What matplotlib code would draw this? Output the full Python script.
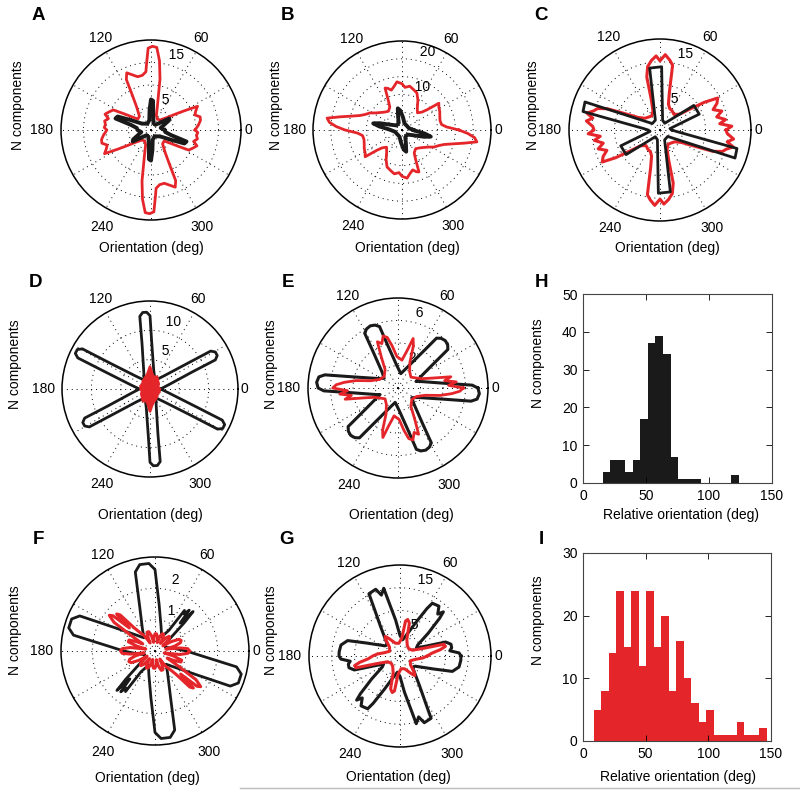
import numpy as np
import matplotlib
matplotlib.use("Agg")
import matplotlib.pyplot as plt
from matplotlib.lines import Line2D

plt.rcParams['font.family'] = ['Liberation Sans', 'DejaVu Sans']
plt.rcParams['font.size'] = 10

W, H = 800, 792
RED = '#e4262b'
BLACK = '#1a1a1a'

# ---- polar outlines: angle (deg, 0-180) and N components; 180-360 repeats ----
a_red_th = [0, 6, 11, 15, 19, 23, 27, 30, 33, 38, 48, 60, 70, 75, 78, 80, 83, 86, 89, 92,
            94, 95, 99, 104, 109, 113, 116, 118, 122, 130, 140, 145, 149, 152, 157, 161, 165, 169, 173, 177]
a_red_r = [9.8, 10.6, 11.2, 11.3, 10.3, 10.8, 11.6, 8.5, 6.5, 4.5, 3.0, 2.8, 3.5, 5.5, 8.0, 11.5, 15.5, 18.4, 18.6, 18.2,
           14.5, 13.0, 12.3, 12.2, 13.0, 13.8, 12.5, 9.0, 6.0, 4.0, 3.8, 5.0, 7.0, 9.5, 10.2, 10.8, 9.8, 10.5, 10.2, 10.4]
a_blk_th = [0, 12, 22, 28, 32, 37, 50, 70, 82, 86, 90, 94, 100, 120, 145, 154, 158, 162, 166, 172]
a_blk_r = [3.0, 2.2, 3.2, 4.5, 4.8, 3.0, 1.5, 1.6, 3.5, 6.5, 6.8, 4.5, 2.2, 1.6, 2.5, 5.0, 8.0, 8.3, 4.5, 3.2]

b_red_th = [0, 4, 8, 14, 20, 26, 32, 36, 39, 42, 48, 55, 62, 68, 74, 80, 86, 90, 96, 101,
            105, 109, 112, 115, 118, 126, 134, 141, 147, 152, 157, 161, 165, 168, 171, 174, 177]
b_red_r = [16.0, 12.5, 11.2, 11.0, 11.3, 11.8, 12.2, 12.8, 9.0, 7.5, 6.5, 7.5, 9.5, 11.2, 11.8, 12.5, 12.0, 13.0, 13.6, 12.3,
           11.6, 12.4, 12.7, 9.0, 7.3, 6.5, 7.0, 7.8, 8.8, 10.2, 11.2, 12.5, 15.0, 17.8, 21.3, 20.5, 18.5]
b_blk_th = [0, 15, 40, 70, 85, 95, 101, 106, 115, 140, 155, 163, 167, 171, 176]
b_blk_r = [3.2, 2.0, 1.8, 2.0, 3.5, 5.5, 6.2, 4.0, 2.2, 2.0, 3.5, 6.5, 8.3, 6.5, 4.0]

c_red_th = [0, 3, 6, 9, 13, 17, 21, 25, 29, 32, 35, 39, 48, 58, 66, 72, 76, 79, 82, 86,
            90, 93, 97, 101, 104, 106, 110, 120, 132, 142, 150, 155, 158, 161, 164, 167, 170, 173, 177]
c_red_r = [14.5, 15.8, 13.2, 14.6, 12.8, 14.2, 12.5, 13.8, 14.5, 11.5, 8.0, 5.5, 4.6, 5.0, 5.2, 6.0, 8.5, 14.5, 15.5, 16.6,
           15.2, 16.3, 15.4, 14.2, 12.0, 7.0, 4.5, 3.6, 3.8, 4.2, 5.5, 8.5, 12.5, 14.5, 15.2, 16.5, 15.0, 16.3, 14.8]
c_blk_th = [0, 8, 22, 36, 55, 75, 88.5, 99.5, 115, 140, 159.5, 166.5, 175]
c_blk_r = [2.6, 2.2, 9.3, 9.2, 1.8, 2.2, 13.9, 13.8, 2.4, 2.2, 17.6, 17.4, 3.6]

d_blk_th = [0, 13, 22, 24, 26.5, 29.5, 32, 34, 43, 60, 79, 88, 90, 92.5, 95.5, 98, 100, 109, 123, 138,
            147, 149.3, 151.5, 154.5, 156.7, 159, 168]
d_blk_r = [1.8, 3.3, 7.8, 12.2, 12.8, 12.8, 12.2, 8.2, 3.3, 1.7, 3.3, 8.1, 12.5, 13.1, 13.1, 12.5, 7.8, 3.3, 1.8, 3.3,
           8.0, 13.4, 14.1, 14.1, 13.4, 8.3, 3.3]
d_red_th = [0, 15, 30, 45, 60, 72, 82, 90, 97, 105, 118, 132, 148, 163, 172]
d_red_r = [1.6, 1.4, 1.7, 1.9, 2.4, 2.1, 2.6, 3.8, 2.8, 2.3, 2.0, 1.8, 1.5, 1.7, 1.5]

e_blk_th = [0, 2.2, 6.2, 17, 20, 24, 34.8, 37.7, 41, 45, 49, 52.3, 55.2, 66, 79, 93, 103.8, 106.7, 110, 114,
            118, 121.3, 124.2, 135, 145, 155, 165.8, 169.8, 172, 176]
e_blk_r = [7.1, 6.6, 4.0, 2.0, 1.7, 2.0, 4.0, 5.6, 5.85, 5.95, 5.85, 5.6, 4.0, 2.0, 1.3, 2.0, 4.0, 5.7, 5.95, 6.05,
           5.95, 5.7, 4.0, 2.0, 1.5, 2.0, 4.0, 6.6, 7.1, 7.25]
e_red_th = [0, 3, 6, 9, 12, 16, 22, 30, 40, 55, 65, 70, 73, 76, 82, 92, 98, 102, 106, 110,
            114, 118, 125, 140, 155, 165, 170, 174, 177]
e_red_r = [5.8, 4.5, 5.2, 4.2, 4.8, 3.2, 2.2, 1.8, 1.5, 1.8, 2.5, 4.0, 4.6, 3.5, 2.5, 2.8, 3.8, 4.6, 4.8, 4.2,
           4.5, 3.2, 2.0, 1.6, 1.8, 2.5, 3.8, 4.8, 5.5]

f_blk_th = [0, 8, 20, 35, 44, 46, 48, 50, 52, 54, 56, 65, 76, 85, 90, 94, 100, 104, 109, 120,
            130, 140, 150, 155, 159, 165, 169, 174]
f_blk_r = [1.0, 0.6, 0.35, 0.4, 1.3, 1.75, 1.2, 1.7, 1.5, 1.6, 0.8, 0.5, 0.8, 1.5, 2.6, 2.8, 2.8, 2.6, 1.5, 0.8,
           0.55, 0.8, 1.5, 2.65, 2.85, 2.85, 2.65, 1.5]
f_red_th = [0, 4, 7, 10, 14, 18, 22, 26, 30, 33, 38, 42, 46, 50, 54, 59, 63, 67, 71, 75,
            80, 85, 90, 95, 99, 103, 108, 113, 118, 121, 125, 129, 132, 134, 136, 138, 140, 142, 145, 147,
            150, 153, 157, 161, 165, 168, 172, 176]
f_red_r = [1.1, 1.05, 0.8, 0.35, 0.65, 0.85, 0.9, 0.85, 0.6, 0.3, 0.5, 0.63, 0.65, 0.55, 0.3, 0.5, 0.6, 0.6, 0.5, 0.28,
           0.45, 0.55, 0.55, 0.42, 0.28, 0.5, 0.65, 0.65, 0.45, 0.3, 0.6, 0.75, 1.0, 1.6, 1.7, 1.1, 1.75, 1.85, 1.6, 0.9,
           0.45, 0.65, 0.9, 0.9, 0.6, 0.3, 0.8, 1.05]

g_blk_th = [0, 3, 6, 9, 13, 17, 21, 26, 32, 39, 43.6, 45.5, 48, 52, 58.5, 60.4, 65, 72, 81, 90,
            97, 101.6, 103.5, 107, 110, 116.5, 118.4, 123, 136, 141, 146, 159, 163.6, 169.5, 176]
g_blk_r = [13.4, 13.0, 11.0, 11.5, 11.5, 10.5, 6.0, 4.0, 4.6, 8.0, 12.0, 13.6, 12.4, 13.9, 13.6, 12.0, 8.0, 5.0, 3.6, 4.5,
           8.0, 12.0, 15.3, 14.0, 15.6, 15.3, 12.0, 8.0, 4.0, 3.8, 4.0, 8.0, 12.0, 13.2, 13.4]
g_red_th = [0, 5, 9, 12, 15, 18, 25, 40, 55, 68, 74, 78, 81, 84, 95, 110, 122, 127, 131, 140, 155, 168, 175]
g_red_r = [6.0, 7.0, 9.0, 10.2, 10.0, 5.5, 3.0, 2.5, 2.8, 4.0, 7.5, 8.2, 7.8, 4.0, 2.8, 3.0, 4.5, 5.4, 4.8, 3.0,
           2.5, 3.5, 5.0]

# ---- histograms ----
h_centers = [18.5, 24.5, 30.5, 36.5, 42.5, 48.5, 54.5, 60.5, 66.5, 72.5, 78.5, 84.5, 90.5,
             96.5, 102.5, 108.5, 114.5, 120.5]
h_counts = [3, 6, 6, 3, 6, 17, 37, 39, 34, 7, 1, 1, 1, 0, 0, 0, 0, 2]
i_centers = [11.5, 17.5, 23.5, 29.5, 35.5, 41.5, 47.5, 53.5, 59.5, 65.5, 71.5, 77.5, 83.5, 89.5,
             95.5, 101.5, 107.5, 113.5, 119.5, 125.5, 131.5, 137.5, 143.5]
i_counts = [5, 8, 14, 24, 15, 24, 12, 24, 15, 20, 8, 16, 10, 6, 3, 5, 1, 1, 1, 3, 1, 1, 2]

# angle label nudges (px) around 1.1*rmax, as MATLAB polar puts them
ANG_OFF = {0: (-2, 0), 60: (0, 6), 120: (-1, 6), 180: (-10, 0), 240: (0, -11), 300: (2, -11)}

fig = plt.figure(figsize=(W / 100, H / 100), dpi=100)


def closed(th, r):
    th = np.asarray(th, float)
    r = np.asarray(r, float)
    t = np.concatenate([th, th + 180, th[:1] + 360])
    rr = np.concatenate([r, r, r[:1]])
    return np.deg2rad(t), rr


def ftext(x, y, s, **kw):
    fig.text(x / W, 1 - y / H, s, ha='center', va='center', **kw)


def polar_panel(cx, cy, rp, rmax, rings, rlabs, curves, fill=None):
    ax = fig.add_axes([(cx - rp) / W, (H - cy - rp) / H, 2 * rp / W, 2 * rp / H], projection='polar')
    ax.set_ylim(0, rmax)
    ax.set_rgrids(rings, labels=[''] * len(rings))
    ax.set_thetagrids(np.arange(0, 360, 30), labels=[''] * 12)
    ax.grid(True, color='k', lw=0.7, ls=(0, (1, 4)))
    ax.tick_params(length=0)
    ax.spines['polar'].set_linewidth(1.1)
    step = rings[0]
    for v in rlabs:
        ax.text(np.deg2rad(82), v + step / 20, '  %g' % v, ha='left', va='bottom', fontsize=10, zorder=1)
    for a, (dx, dy) in ANG_OFF.items():
        ax.annotate(str(a), xy=(np.deg2rad(a), 1.1 * rmax), xytext=(dx * 0.72, dy * 0.72),
                    textcoords='offset points', ha='center', va='center',
                    annotation_clip=False, fontsize=10)
    for th, r, col, lw in curves:
        t, rr = closed(th, r)
        if fill is not None and col == fill:
            ax.fill(t, rr, color=col, zorder=3, lw=0)
        ax.plot(t, rr, color=col, lw=lw, solid_joinstyle='round', zorder=3)
    return ax


polar_panel(151, 130, 90, 20, [5, 10, 15], [5, 15],
            [(a_red_th, a_red_r, RED, 2), (a_blk_th, a_blk_r, BLACK, 2.8)])
polar_panel(402, 130, 89, 25, [5, 10, 15, 20], [10, 20],
            [(b_red_th, b_red_r, RED, 2), (b_blk_th, b_blk_r, BLACK, 2.8)])
polar_panel(660, 130, 91, 20, [5, 10, 15], [5, 15],
            [(c_red_th, c_red_r, RED, 2.2), (c_blk_th, c_blk_r, BLACK, 2)])
polar_panel(150, 389, 88, 15, [5, 10], [5, 10],
            [(d_blk_th, d_blk_r, BLACK, 2), (d_red_th, d_red_r, RED, 2)], fill=RED)
polar_panel(398, 388, 90, 8, [2, 4, 6], [2, 6],
            [(e_blk_th, e_blk_r, BLACK, 2.2), (e_red_th, e_red_r, RED, 2)])
polar_panel(155, 651, 94, 3, [1, 2], [1, 2],
            [(f_blk_th, f_blk_r, BLACK, 2), (f_red_th, f_red_r, RED, 2.2)])
polar_panel(400, 656, 91, 20, [5, 10, 15], [5, 15],
            [(g_blk_th, g_blk_r, BLACK, 2.2), (g_red_th, g_red_r, RED, 2.2)])

# axis titles of the polar panels
for x, y in [(18, 105), (276, 105), (533, 105), (15, 364), (271, 364), (15, 630), (271, 630)]:
    ftext(x, y, 'N components', rotation=90, fontsize=10)
for x, y in [(151, 248), (407, 248), (667, 248), (150, 515), (401, 515), (147, 778), (398, 777)]:
    ftext(x, y, 'Orientation (deg)', fontsize=10)


def hist_panel(l, t, r, b, centers, counts, col, ymax):
    ax = fig.add_axes([l / W, (H - b) / H, (r - l) / W, (b - t) / H])
    ax.bar(centers, counts, width=6, color=col, edgecolor='none')
    ax.set_xlim(0, 150)
    ax.set_ylim(0, ymax)
    ax.set_xticks([0, 50, 100, 150])
    ax.set_yticks(np.arange(0, ymax + 1, 10))
    ax.tick_params(direction='in', top=True, right=True, length=4, width=0.6, labelsize=10, pad=4)
    for s in ax.spines.values():
        s.set_linewidth(0.8)
        s.set_color('#444444')
    return ax


hist_panel(583, 294, 772, 483, h_centers, h_counts, BLACK, 50)
hist_panel(583, 553, 771, 741, i_centers, i_counts, RED, 30)
ftext(538, 363, 'N components', rotation=90, fontsize=10)
ftext(538, 620, 'N components', rotation=90, fontsize=10)
ftext(681, 515, 'Relative orientation (deg)', fontsize=10)
ftext(678, 777, 'Relative orientation (deg)', fontsize=10)

for letter, x, y in [('A', 38, 15), ('B', 288, 15), ('C', 541, 15),
                     ('D', 35, 283), ('E', 288, 283), ('H', 541, 283),
                     ('F', 38, 540), ('G', 286, 540), ('I', 541, 540)]:
    ftext(x, y, letter, fontsize=13.5, fontweight='bold')

fig.add_artist(Line2D([240 / W, 1.0], [1 - 788 / H, 1 - 788 / H], color='#bbbbbb', lw=1))

fig.savefig('out.png', dpi=100)
